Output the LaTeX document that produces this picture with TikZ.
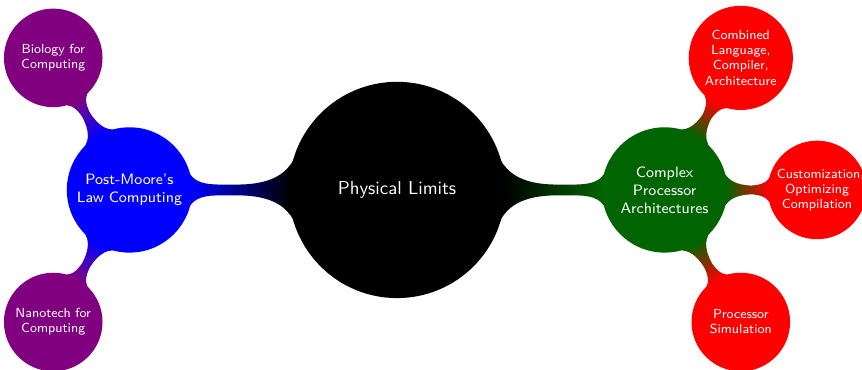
\documentclass[tikz,border=0pt]{standalone}
\usepackage{tikz}
\usetikzlibrary{mindmap}
\definecolor{limitc}{HTML}{000000}
\definecolor{moorec}{HTML}{0000FF}
\definecolor{archc} {HTML}{006400}
\definecolor{bioc}  {HTML}{800080}
\definecolor{compc} {HTML}{FF0000}
\tikzset{
  root concept/.append style={minimum size=4cm, text width=3.5cm,
                              font=\sffamily\normalsize},
  level 1 concept/.append style={minimum size=2.3cm, text width=2cm,
                                 font=\sffamily\footnotesize},
  level 2 concept/.append style={minimum size=1.8cm, text width=1.5cm,
                                 font=\sffamily\scriptsize},
}

\begin{document}
\begin{tikzpicture}[mindmap, text=white, concept color=limitc,
    level 1/.append style={level distance=5cm},
    level 2/.append style={level distance=2.85cm}]
  \useasboundingbox (-7.42,-3.35) rectangle (8.69,3.55);
  \node[concept] (limits) {Physical Limits}
    child[grow=180, concept color=moorec] { node[concept] (moore) {Post-Moore's Law Computing}
      child[grow=120, concept color=bioc] { node[concept] (bio) {Biology for Computing} }
      child[grow=240, concept color=bioc] { node[concept] (nano) {Nanotech for Computing} }
    }
    child[grow=0, concept color=archc] { node[concept] (arch) {Complex Processor Architectures}
      child[grow=60, concept color=compc] { node[concept] (lang) {Combined Language, Compiler, Architecture} }
      child[grow=0, concept color=compc] { node[concept] (opt) {Customization, Optimizing Compilation} }
      child[grow=-60, concept color=compc] { node[concept] (sim) {Processor Simulation} }
    };
\end{tikzpicture}
\end{document}
